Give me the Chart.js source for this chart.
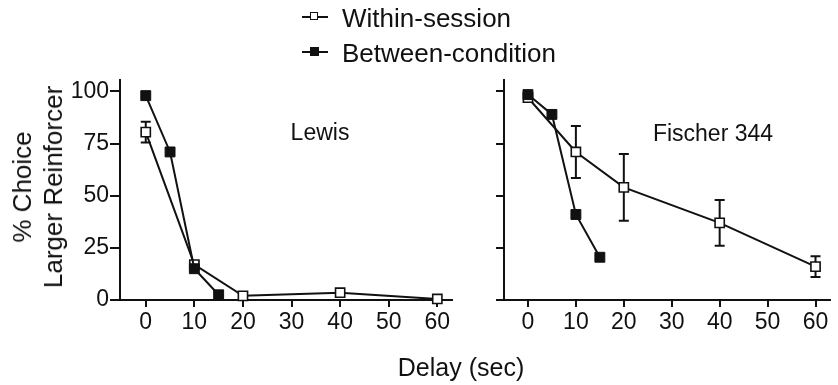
<!DOCTYPE html>
<html>
<head>
<meta charset="utf-8">
<script src="https://cdn.jsdelivr.net/npm/chart.js@4"></script>
<style>
  body { margin: 0; background: #fff; }
  #wrap { position: relative; width: 838px; height: 385px; overflow: hidden; background: #fff;
          font-family: 'Liberation Sans', Arial, Helvetica, sans-serif; color: #111; }
  canvas { position: absolute; top: 0; }
  .txt { position: absolute; white-space: nowrap; line-height: 1; }
  .leg { position: absolute; left: 302px; width: 26px; height: 0; border-top: 2px solid #111; }
  .leg span { position: absolute; left: 8px; top: -6px; width: 8px; height: 8px; box-sizing: border-box; }
</style>
</head>
<body>
<div id="wrap">
  <canvas id="lewis" width="460" height="385" style="left:0"></canvas>
  <canvas id="fischer" width="378" height="385" style="left:460px"></canvas>

  <!-- legende -->
  <div class="leg" style="top:16px"><span style="border:1.5px solid #111;background:#fff"></span></div>
  <div class="txt" style="left:342px;top:5px;font-size:26px">Within-session</div>
  <div class="leg" style="top:51px"><span style="background:#111;width:9px;height:9px;top:-6px"></span></div>
  <div class="txt" style="left:342px;top:40px;font-size:26px">Between-condition</div>

  <!-- titols -->
  <div class="txt" style="left:320px;top:132px;font-size:23px;transform:translate(-50%,-50%)">Lewis</div>
  <div class="txt" style="left:713px;top:133px;font-size:23px;transform:translate(-50%,-50%)">Fischer 344</div>
  <div class="txt" style="left:461px;top:367px;font-size:25px;transform:translate(-50%,-50%)">Delay (sec)</div>
  <div class="txt" style="left:38px;top:187px;font-size:26px;line-height:31px;text-align:center;transform:translate(-50%,-50%) rotate(-90deg)">% Choice<br>Larger Reinforcer</div>
</div>

<script>
// dades
const delayWithin = [0, 10, 20, 40, 60];
const delayBetween = [0, 5, 10, 15];
const xTicks = [0, 10, 20, 30, 40, 50, 60];
const yTicks = [0, 25, 50, 75, 100];

const lewisWithin = [80.5, 17, 2, 3.5, 0.5];
const lewisWithinErr = [5, 1.5, 0, 0, 0];
const lewisBetween = [98, 71, 15, 2.5];

const fischerWithin = [97, 71, 54, 37, 16];
const fischerWithinErr = [2, 12.5, 16, 11, 5];
const fischerBetween = [98.5, 89, 41, 20.5];

const FONT = "'Liberation Sans', Arial, Helvetica, sans-serif";

// barres d'error (sota els marcadors)
const errorBars = {
  id: 'errorBars',
  beforeDatasetsDraw(chart, args, opts) {
    const ctx = chart.ctx, xs = chart.scales.x, ys = chart.scales.y;
    ctx.save();
    ctx.strokeStyle = '#111';
    ctx.lineWidth = 2;
    opts.x.forEach((xv, i) => {
      const e = opts.err[i];
      if (!e) return;
      const px = xs.getPixelForValue(xv);
      const top = ys.getPixelForValue(opts.y[i] + e);
      const bot = ys.getPixelForValue(opts.y[i] - e);
      ctx.beginPath();
      ctx.moveTo(px, top); ctx.lineTo(px, bot);
      ctx.moveTo(px - 5, top); ctx.lineTo(px + 5, top);
      ctx.moveTo(px - 5, bot); ctx.lineTo(px + 5, bot);
      ctx.stroke();
    });
    ctx.restore();
  }
};

// allarga l'eix x cap a l'esquerra
const axisExtend = {
  id: 'axisExtend',
  afterDraw(chart, args, opts) {
    if (!opts.left) return;
    const a = chart.chartArea, ctx = chart.ctx;
    ctx.save();
    ctx.strokeStyle = '#111';
    ctx.lineWidth = 2;
    ctx.beginPath();
    ctx.moveTo(a.left - opts.left, a.bottom);
    ctx.lineTo(a.left, a.bottom);
    ctx.stroke();
    ctx.restore();
  }
};

function pts(xs, ys) { return xs.map((x, i) => ({ x: x, y: ys[i] })); }

function crearPanell(id, within, withinErr, between, cfg) {
  return new Chart(document.getElementById(id), {
    type: 'line',
    data: {
      datasets: [
        { label: 'Between-condition', data: pts(delayBetween, between),
          borderColor: '#111', backgroundColor: '#111', borderWidth: 2,
          pointStyle: 'rect', pointRadius: 7, pointBackgroundColor: '#111', pointBorderColor: '#111', pointBorderWidth: 1 },
        { label: 'Within-session', data: pts(delayWithin, within),
          borderColor: '#111', backgroundColor: '#fff', borderWidth: 2,
          pointStyle: 'rect', pointRadius: 6.5, pointBackgroundColor: '#fff', pointBorderColor: '#111', pointBorderWidth: 1.6 }
      ]
    },
    options: {
      responsive: false,
      animation: false,
      clip: false,
      layout: { padding: { top: 80, right: cfg.padRight, left: 0, bottom: 0 } },
      plugins: {
        legend: { display: false },
        tooltip: { enabled: false },
        errorBars: { x: delayWithin, y: within, err: withinErr },
        axisExtend: { left: cfg.extend }
      },
      scales: {
        x: {
          type: 'linear', min: cfg.xMin, max: 63,
          afterBuildTicks: s => { s.ticks = xTicks.map(v => ({ value: v })); },
          afterFit: s => { s.height = 85; },
          border: { display: true, color: '#111', width: 2 },
          grid: { drawOnChartArea: false, color: '#111', lineWidth: 2, tickLength: 7 },
          ticks: { color: '#111', padding: 2, maxRotation: 0, font: { family: FONT, size: 23 } }
        },
        y: {
          min: 0, max: 105.5,
          afterBuildTicks: s => { s.ticks = yTicks.map(v => ({ value: v })); },
          afterFit: s => { s.width = cfg.yWidth; },
          border: { display: true, color: '#111', width: 2 },
          grid: { drawOnChartArea: false, color: '#111', lineWidth: 2, tickLength: cfg.yTick },
          ticks: { display: cfg.yLabels, color: '#111', padding: 1, font: { family: FONT, size: 23 } }
        }
      }
    },
    plugins: [errorBars, axisExtend]
  });
}

crearPanell('lewis', lewisWithin, lewisWithinErr, lewisBetween,
  { padRight: 5, yWidth: 120, xMin: -5.3, yTick: 10, yLabels: true, extend: 0 });
crearPanell('fischer', fischerWithin, fischerWithinErr, fischerBetween,
  { padRight: 0, yWidth: 44, xMin: -5, yTick: 8, yLabels: false, extend: 7 });
</script>
</body>
</html>
